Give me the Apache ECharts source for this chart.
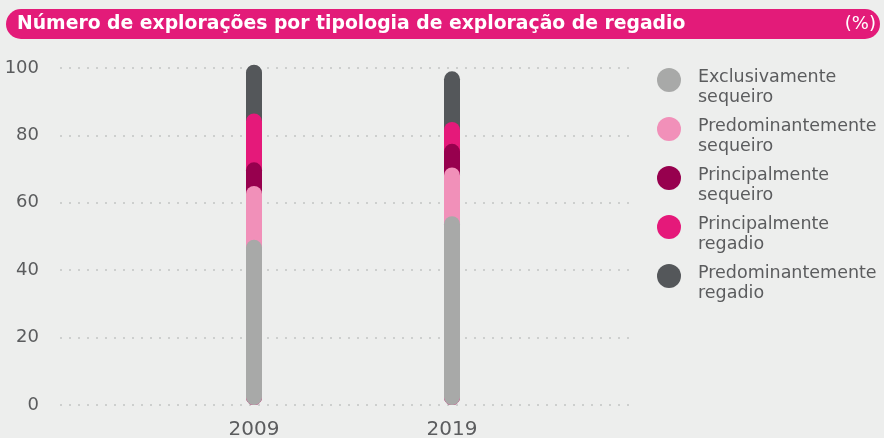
<!DOCTYPE html>
<html>
<head>
<meta charset="utf-8">
<script src="https://cdn.jsdelivr.net/npm/echarts@6/dist/echarts.min.js"></script>
<style>
  html, body { margin: 0; padding: 0; background: #edeeed; }
  #main { width: 884px; height: 438px; }
</style>
</head>
<body>
<div id="main"></div>
<script>
  var years = ['2009', '2019'];
  var seriesNames = ['Exclusivamente sequeiro', 'Predominantemente sequeiro', 'Principalmente sequeiro', 'Principalmente regadio', 'Predominantemente regadio'];
  var colors = ['#a8a9a8', '#f190b9', '#97004e', '#e5197a', '#54575a'];
  var yTicks = [0, 20, 40, 60, 80, 100];

  var exclusivamenteSequeiro = [49, 56];
  var predominantementeSequeiro = [16, 14.5];
  var principalmenteSequeiro = [7, 7];
  var principalmenteRegadio = [14.5, 6.5];
  var predominantementeRegadio = [14.5, 15];

  var values = [exclusivamenteSequeiro, predominantementeSequeiro, principalmenteSequeiro, principalmenteRegadio, predominantementeRegadio];

  var myChart = echarts.init(document.getElementById('main'));

  var font = 'DejaVu Sans';
  var textGrey = '#5b5c5e';

  // each series drawn from 0 up to its running total, lower ones in front
  var running = [0, 0];
  var series = values.map(function (vals, i) {
    running = running.map(function (r, j) { return r + vals[j]; });
    return {
      name: seriesNames[i],
      type: 'bar',
      xAxisIndex: 1,
      yAxisIndex: 1,
      data: running.slice(),
      barWidth: 16,
      barGap: '-100%',
      z: 10 - i,
      itemStyle: { color: colors[i], borderRadius: 8 },
      emphasis: { disabled: true }
    };
  });

  // bar grid uses the same scale as the visible axis but a little headroom above 100
  var plotBottom = 33, plotTop = 68, barMax = 110;
  var pxPerUnit = (438 - plotBottom - plotTop) / 100;
  var barTop = 438 - plotBottom - barMax * pxPerUnit;

  var option = {
    backgroundColor: '#edeeed',
    color: colors,
    animation: false,
    graphic: [{
      type: 'rect',
      shape: { x: 6, y: 9, width: 874, height: 30, r: 15 },
      style: { fill: '#e31b79' },
      z: 0
    }],
    title: [{
      text: 'Número de explorações por tipologia de exploração de regadio',
      left: 12,
      top: 10,
      padding: [0, 0, 0, 5],
      textStyle: { color: '#fff', fontFamily: font, fontWeight: 'bold', fontSize: 18.8, lineHeight: 28 }
    }, {
      text: '(%)',
      right: 8,
      top: 10,
      padding: 0,
      textStyle: { color: '#fff', fontFamily: font, fontWeight: 'normal', fontSize: 18, lineHeight: 28 }
    }],
    legend: {
      orient: 'vertical',
      left: 652,
      top: 50,
      icon: 'circle',
      itemWidth: 24,
      itemHeight: 24,
      itemGap: -2,
      selectedMode: false,
      data: seriesNames,
      formatter: function (name) {
        var parts = name.split(' ');
        return '{s| }\n{a|' + parts[0] + '}\n{a|' + parts[1] + '}';
      },
      textStyle: {
        color: textGrey, fontFamily: font, fontSize: 17.5, padding: [0, 0, 0, 12],
        rich: {
          s: { fontSize: 10, lineHeight: 14 },
          a: { color: textGrey, fontFamily: font, fontSize: 17.5, lineHeight: 20 }
        }
      }
    },
    grid: [
      { left: 60, right: 248, top: plotTop, bottom: plotBottom, outerBoundsMode: 'none' },
      { left: 155, width: 396, top: barTop, bottom: plotBottom, outerBoundsMode: 'none' }
    ],
    xAxis: [{
      gridIndex: 0,
      type: 'category',
      data: years,
      show: false
    }, {
      gridIndex: 1,
      type: 'category',
      data: years,
      axisLine: { show: false },
      axisTick: { show: false },
      axisLabel: { color: textGrey, fontFamily: font, fontSize: 20, margin: 15 }
    }],
    yAxis: [{
      gridIndex: 0,
      type: 'value',
      min: yTicks[0],
      max: yTicks[yTicks.length - 1],
      interval: 20,
      axisLine: { show: false },
      axisTick: { show: false },
      axisLabel: { color: textGrey, fontFamily: font, fontSize: 18, margin: 21 },
      splitLine: { lineStyle: { color: '#cdcfce', width: 2, type: [2, 7] } }
    }, {
      gridIndex: 1,
      type: 'value',
      min: 0,
      max: barMax,
      interval: 10,
      show: false,
      splitLine: { show: false }
    }],
    series: series
  };

  myChart.setOption(option);
</script>
</body>
</html>
